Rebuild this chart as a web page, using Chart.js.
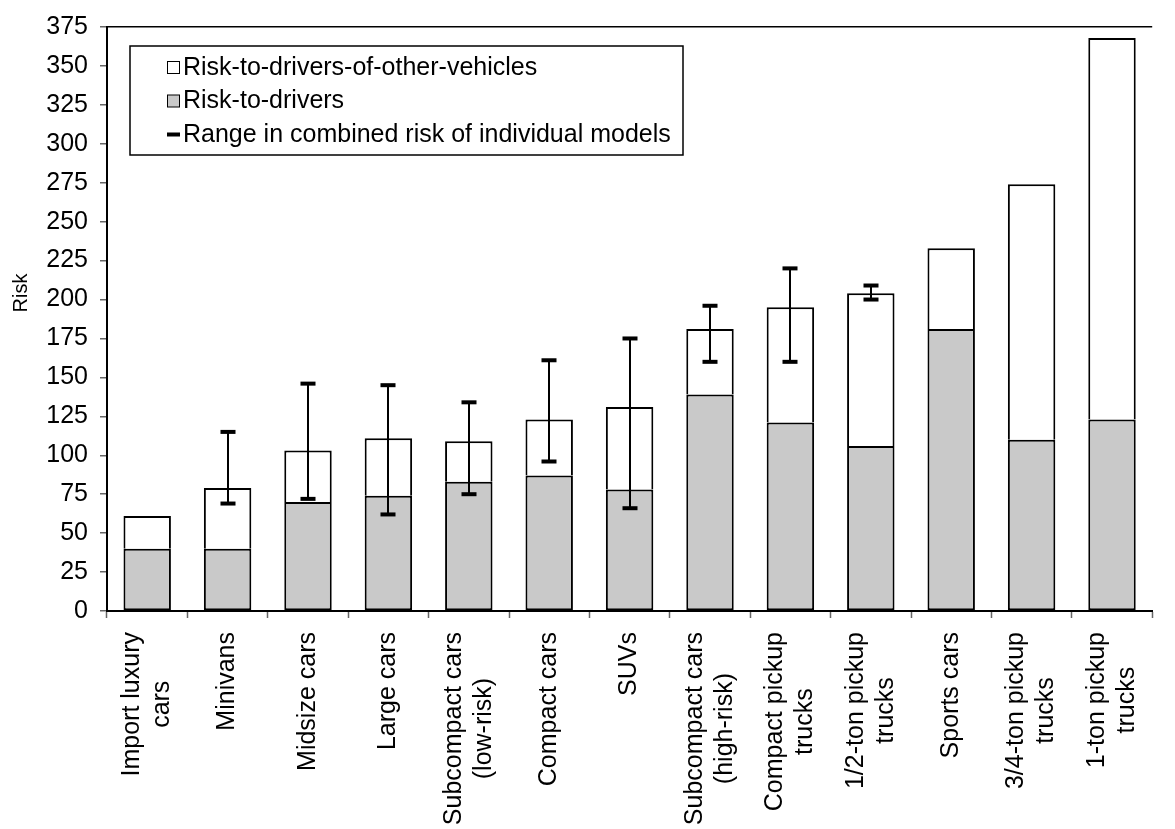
<!DOCTYPE html>
<html><head><meta charset="utf-8">
<script src="https://cdn.jsdelivr.net/npm/chart.js@4.4.0/dist/chart.umd.min.js"></script>
<style>html,body{margin:0;padding:0;background:#fff}#wrap{width:1175px;height:829px;position:relative}</style>
</head><body><div id="wrap"><canvas id="c"></canvas></div>
<script>
const categories = [
  ["Import luxury","cars"],["Minivans"],["Midsize cars"],["Large cars"],
  ["Subcompact cars","(low-risk)"],["Compact cars"],["SUVs"],
  ["Subcompact cars","(high-risk)"],["Compact pickup","trucks"],
  ["1/2-ton pickup","trucks"],["Sports cars"],["3/4-ton pickup","trucks"],
  ["1-ton pickup","trucks"]
];
const riskToDrivers = [40, 40, 70, 74, 83, 87, 78, 139, 121, 106, 181, 110, 123];
const riskToOthers  = [21, 39, 33, 37, 26, 36, 53, 42, 74, 98, 52, 164, 245];
const rangeLow  = [null, 69, 72, 62, 75, 96, 66, 160, 160, 200, null, null, null];
const rangeHigh = [null, 115, 146, 145, 134, 161, 175, 196, 220, 209, null, null, null];
const yMin = 0, yMax = 375, yStep = 25;
const seriesNames = ["Risk-to-drivers-of-other-vehicles", "Risk-to-drivers", "Range in combined risk of individual models"];
const yTitleText = "Risk";

const FONT = "'Liberation Sans', Arial, sans-serif";
Chart.defaults.font.family = FONT;
Chart.defaults.color = '#000';

const errorBars = {
  id: 'errorBars',
  afterDatasetsDraw(chart) {
    const {ctx, scales: {x, y}} = chart;
    ctx.save();
    ctx.strokeStyle = '#000'; ctx.fillStyle = '#000';
    rangeLow.forEach((lo, i) => {
      const hi = rangeHigh[i];
      if (lo == null || hi == null) return;
      const px = Math.round(x.getPixelForValue(i));
      const yl = y.getPixelForValue(lo), yh = y.getPixelForValue(hi);
      ctx.lineWidth = 2;
      ctx.beginPath(); ctx.moveTo(px, yl); ctx.lineTo(px, yh); ctx.stroke();
      ctx.fillRect(px - 7.5, yl - 2, 15, 4);
      ctx.fillRect(px - 7.5, yh - 2, 15, 4);
    });
    ctx.restore();
  }
};

const legendBox = {
  id: 'legendBox',
  afterDraw(chart) {
    const ctx = chart.ctx, a = chart.chartArea;
    const left = a.left + 23, top = a.top + 19;
    ctx.save();
    ctx.font = `25px ${FONT}`;
    const textX = left + 53;
    const w = Math.max(...seriesNames.map(s => ctx.measureText(s).width));
    const boxW = Math.round(textX - left + w + 12), boxH = 109;
    ctx.fillStyle = '#fff'; ctx.fillRect(left, top, boxW, boxH);
    ctx.strokeStyle = '#000'; ctx.lineWidth = 1.5; ctx.strokeRect(left, top, boxW, boxH);
    const rows = [top + 21, top + 54.5, top + 88.5];
    const ds = chart.data.datasets;
    const fills = [ds[1].backgroundColor, ds[0].backgroundColor];
    ctx.lineWidth = 1;
    for (let k = 0; k < 2; k++) {
      ctx.fillStyle = fills[k];
      ctx.fillRect(left + 37.5, rows[k] - 5.5, 12, 12);
      ctx.strokeRect(left + 37.5, rows[k] - 5.5, 12, 12);
    }
    ctx.fillStyle = '#000';
    ctx.fillRect(left + 37, rows[2] - 2, 13, 4);
    ctx.textAlign = 'left'; ctx.textBaseline = 'middle';
    seriesNames.forEach((s, k) => ctx.fillText(s, textX, rows[k] + 1));
    ctx.restore();
  }
};

const xLabels = {
  id: 'xLabels',
  afterDraw(chart) {
    const ctx = chart.ctx, x = chart.scales.x;
    ctx.save();
    ctx.font = `25px ${FONT}`;
    ctx.fillStyle = '#000';
    ctx.textAlign = 'center'; ctx.textBaseline = 'middle';
    const yTop = chart.chartArea.bottom + 21;
    categories.forEach((lines, i) => {
      const px = x.getPixelForValue(i);
      const maxW = Math.max(...lines.map(l => ctx.measureText(l).width));
      ctx.save();
      ctx.translate(px, yTop);
      ctx.rotate(-Math.PI / 2);
      lines.forEach((l, j) => ctx.fillText(l, -maxW / 2, (j - (lines.length - 1) / 2) * 30));
      ctx.restore();
    });
    ctx.restore();
  }
};

const yTitle = {
  id: 'yTitle',
  afterDraw(chart) {
    const ctx = chart.ctx;
    ctx.save();
    ctx.font = `20px ${FONT}`;
    ctx.fillStyle = '#000';
    ctx.textAlign = 'center'; ctx.textBaseline = 'middle';
    ctx.translate(21, 293);
    ctx.rotate(-Math.PI / 2);
    ctx.fillText(yTitleText, 0, 0);
    ctx.restore();
  }
};

new Chart(document.getElementById('c'), {
  type: 'bar',
  data: {
    labels: categories,
    datasets: [
      {label: seriesNames[1], data: riskToDrivers, backgroundColor: '#C9C9C9', borderColor: '#000', borderWidth: 2, borderSkipped: false, stack: 's'},
      {label: seriesNames[0], data: riskToOthers, backgroundColor: '#FFFFFF', borderColor: '#000', borderWidth: 2, borderSkipped: 'bottom', stack: 's'}
    ]
  },
  options: {
    responsive: true, maintainAspectRatio: false, animation: false,
    devicePixelRatio: 1,
    layout: {padding: {top: 20, left: 0, right: 0, bottom: 0}},
    plugins: {legend: {display: false}, tooltip: {enabled: false}},
    datasets: {bar: {categoryPercentage: 1, barPercentage: 0.59}},
    scales: {
      x: {
        stacked: true,
        grid: {offset: true, drawOnChartArea: false, tickLength: 7, tickColor: '#666', tickWidth: 1.5},
        border: {color: '#000', width: 2},
        ticks: {color: 'transparent', font: {size: 25}, minRotation: 90, maxRotation: 90, autoSkip: false},
        afterFit(s) { s.height = 218; }
      },
      y: {
        stacked: true, min: yMin, max: yMax,
        ticks: {stepSize: yStep, font: {size: 25}, padding: 12, color: '#000'},
        grid: {color: c => (c.tick && c.tick.value === yMax) ? '#000' : 'rgba(0,0,0,0)', lineWidth: 1.5, tickLength: 7, tickColor: '#666', tickWidth: 1.5},
        border: {color: '#000', width: 2},
        afterFit(s) { s.width = 107; }
      }
    }
  },
  plugins: [errorBars, legendBox, xLabels, yTitle]
});
</script>
</body></html>
